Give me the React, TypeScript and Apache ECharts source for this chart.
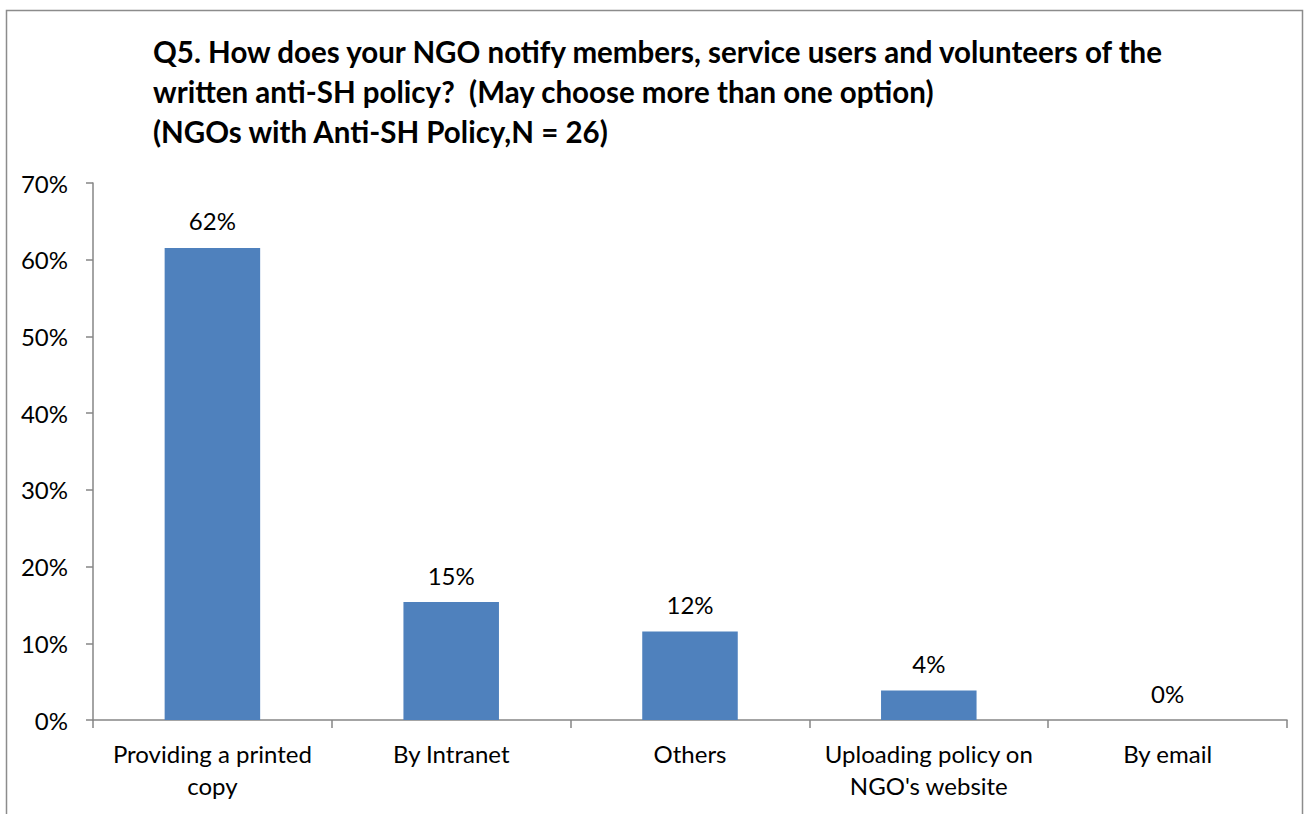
import React, { useEffect, useRef } from "react";
import * as echarts from "echarts";

const categories = [
  "Providing a printed\ncopy",
  "By Intranet",
  "Others",
  "Uploading policy on\nNGO's website",
  "By email",
];
const values = [61.54, 15.38, 11.54, 3.85, 0];
const labels = ["62%", "15%", "12%", "4%", "0%"];
const titleText =
  "Q5. How does your NGO notify members, service users and volunteers of the\nwritten anti-SH policy?  (May choose more than one option)\n(NGOs with Anti-SH Policy,N = 26)";

const FONT = "Lato, 'Open Sans', sans-serif";

export default function App() {
  const ref = useRef<HTMLDivElement>(null);
  useEffect(() => {
    document.body.style.margin = "0";
    const chart = echarts.init(ref.current!, null, { renderer: "svg" });
    chart.setOption({
      animation: false,
      backgroundColor: "#ffffff",
      title: {
        text: titleText,
        left: 148,
        top: 26,
        textStyle: {
          fontFamily: FONT,
          fontWeight: "bold",
          fontSize: 29.5,
          lineHeight: 40,
          color: "#000",
        },
      },
      graphic: [
        {
          type: "rect",
          shape: { x: 6.5, y: 10.5, width: 1296, height: 900 },
          style: { fill: "none", stroke: "#8c8c8c", lineWidth: 1.5 },
          silent: true,
        },
      ],
      grid: { left: 93, right: 18, top: 183, bottom: 94, containLabel: false },
      xAxis: {
        type: "category",
        data: categories,
        axisLine: { lineStyle: { color: "#868686", width: 1.5 } },
        axisTick: { show: true, length: 8, lineStyle: { color: "#868686", width: 1.5 } },
        axisLabel: {
          fontFamily: FONT,
          fontSize: 24,
          color: "#000",
          margin: 17,
          lineHeight: 32,
          interval: 0,
        },
      },
      yAxis: {
        type: "value",
        min: 0,
        max: 70,
        interval: 10,
        axisLine: { show: true, lineStyle: { color: "#868686", width: 1.5 } },
        axisTick: { show: true, length: 7, lineStyle: { color: "#868686", width: 1.5 } },
        splitLine: { show: false },
        axisLabel: {
          fontFamily: FONT,
          fontSize: 24,
          color: "#000",
          margin: 25,
          formatter: (v: number) => `${v}%`,
        },
      },
      series: [
        {
          type: "bar",
          data: values,
          barCategoryGap: "60%",
          itemStyle: { color: "#4F81BD" },
          label: {
            show: true,
            position: "top",
            distance: 15,
            fontFamily: FONT,
            fontSize: 24,
            color: "#000",
            formatter: (p: any) => labels[p.dataIndex],
          },
        },
      ],
    });
    return () => chart.dispose();
  }, []);
  return (
    <div
      ref={ref}
      style={{ position: "absolute", left: 0, top: 0, width: 1305, height: 814 }}
    />
  );
}
